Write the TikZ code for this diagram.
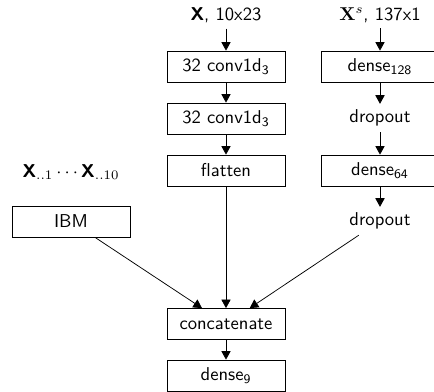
\documentclass[tikz,border=0pt]{standalone}
\usepackage{amsmath}
\usepackage{amssymb}
\usetikzlibrary{arrows.meta}
\tikzset{
	layer/.style={draw, minimum width=63.4pt, minimum height=16.7pt, inner sep=0pt, font=\sffamily},
	plain/.style={font=\sffamily, inner sep=3pt},
	flow/.style={-{Triangle[length=4.6pt,width=5pt]}},
}
\begin{document}
\begin{tikzpicture}[x=0.5376pt,y=-0.5376pt]
	\useasboundingbox (0,0) rectangle (434,392);
			% inputs
			\node[plain] (xin) at (226,15) {\textbf{X}, 10x23};
			\node[plain] (xs) at (380,15) {$\mathbf{X}^s$, 137x1};
			\node[plain] (xlist) at (71,172) {$\textsf{\textbf{X}}_{..1}\cdots\textsf{\textbf{X}}_{..10}$};
			% middle branch
			\node[layer] (conva) at (226,66.5) {32 conv1d\textsubscript{3}};
			\node[layer] (convb) at (226,118.5) {32 conv1d\textsubscript{3}};
			\node[layer] (flat) at (226,170.5) {flatten};
			% right branch
			\node[layer] (densea) at (380,66.5) {dense\textsubscript{128}};
			\node[plain] (dropa) at (380,118) {dropout};
			\node[layer] (denseb) at (380,170.5) {dense\textsubscript{64}};
			\node[plain] (dropb) at (380,221) {dropout};
			% left branch and output
			\node[layer] (ibm) at (71,221.5) {IBM};
			\node[layer] (concat) at (226,324) {concatenate};
			\node[layer] (densec) at (226,375.5) {dense\textsubscript{9}};
			\draw[flow] (xin) -- (conva);
			\draw[flow] (conva) -- (convb);
			\draw[flow] (convb) -- (flat);
			\draw[flow] (flat) -- (concat);
			\draw[flow] (xs) -- (densea);
			\draw[flow] (densea) -- (dropa);
			\draw[flow] (dropa) -- (denseb);
			\draw[flow] (denseb) -- (dropb);
			\draw[flow] (dropb) -- (concat);
			\draw[flow] (ibm) -- (concat);
			\draw[flow] (concat) -- (densec);
	\end{tikzpicture}
\end{document}
